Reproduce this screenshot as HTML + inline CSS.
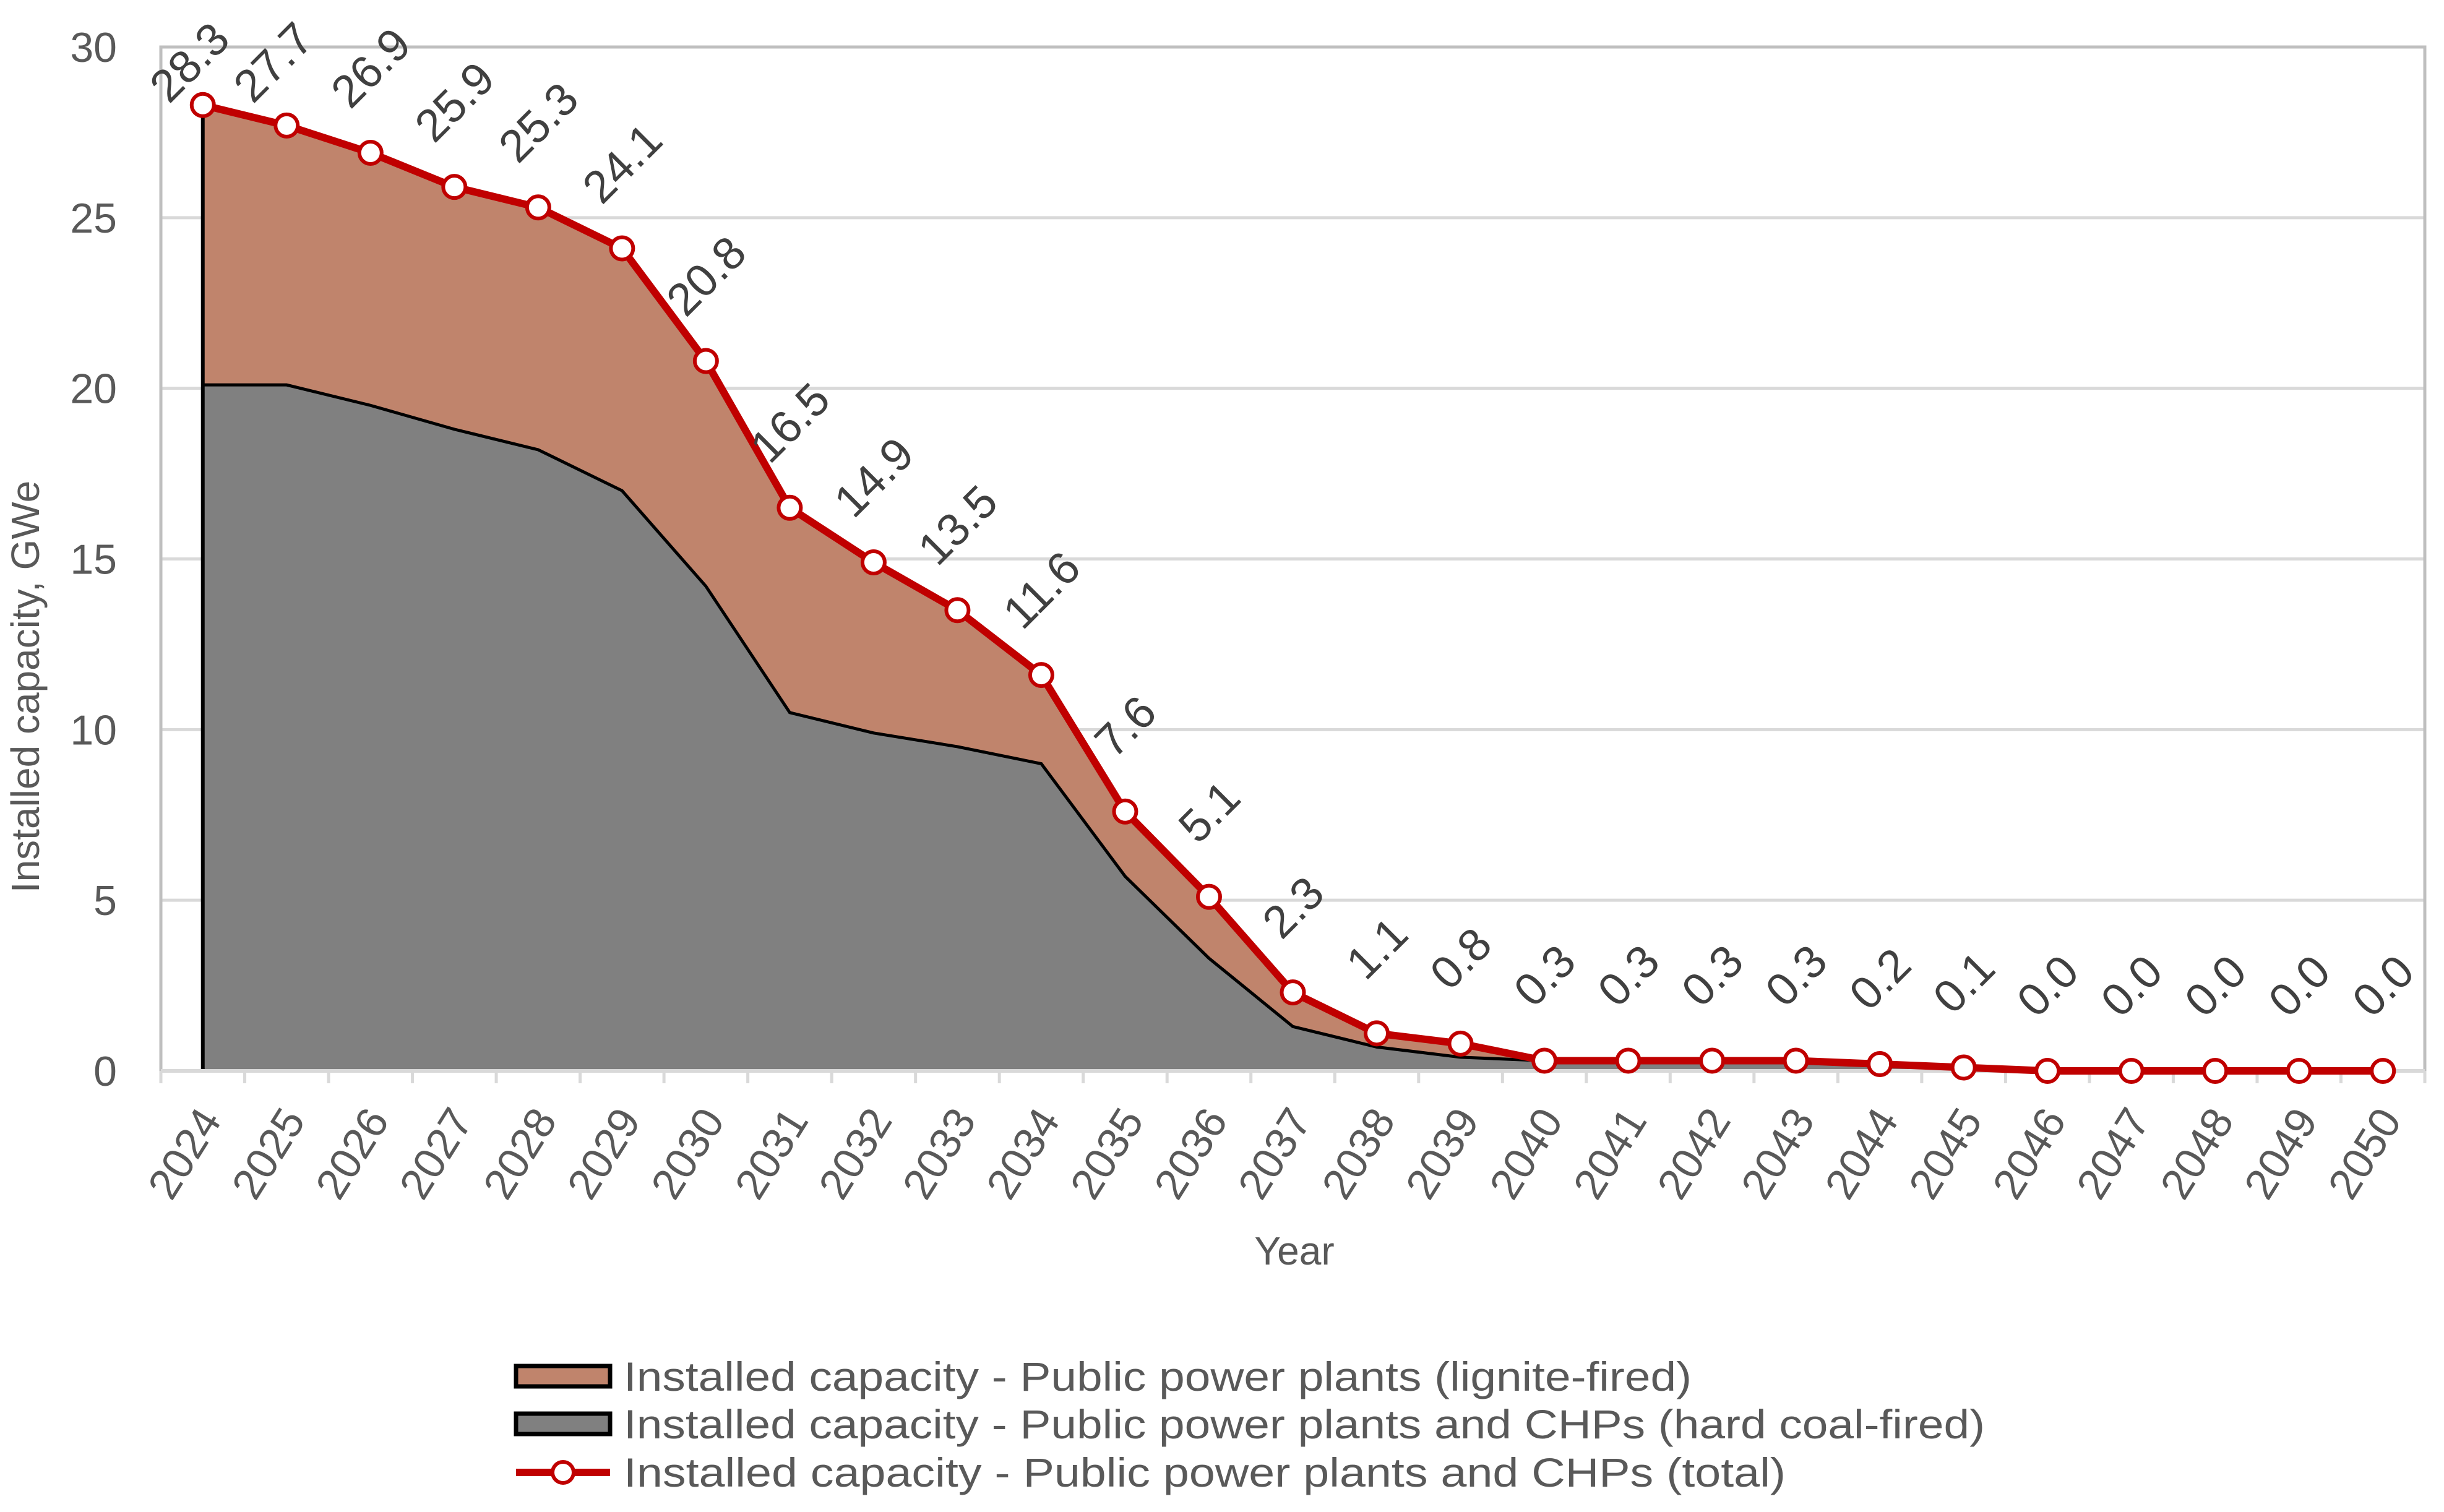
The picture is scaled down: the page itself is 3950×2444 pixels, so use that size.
<!DOCTYPE html>
<html><head><meta charset="utf-8"><style>
html,body{margin:0;padding:0;background:#fff;}
svg{display:block;font-family:"Liberation Sans",Arial,sans-serif;}
</style></head><body>
<svg id="chart" width="3950" height="2444" viewBox="0 0 3950 2444" xmlns="http://www.w3.org/2000/svg">
<g id="grid"></g>
<g id="areas"></g>
<g id="axes"></g>
<g id="line"></g>
<g id="labels"></g>
<text x="63" y="1110" transform="rotate(-90 63 1110)" text-anchor="middle" font-size="64" fill="#595959">Installed capacity, GWe</text>
<text x="2092" y="2044" text-anchor="middle" font-size="64" fill="#595959">Year</text>
<g>
 <g>
  <rect x="834" y="2208" width="152" height="33" fill="#C0846C" stroke="#000" stroke-width="7"/>
  <text x="1008" y="2248" font-size="66" fill="#595959" textLength="1726" lengthAdjust="spacingAndGlyphs">Installed capacity - Public power plants (lignite-fired)</text>
 </g>
 <g>
  <rect x="834" y="2285" width="152" height="33" fill="#808080" stroke="#000" stroke-width="7"/>
  <text x="1008" y="2325" font-size="66" fill="#595959" textLength="2200" lengthAdjust="spacingAndGlyphs">Installed capacity - Public power plants and CHPs (hard coal-fired)</text>
 </g>
 <g>
  <line x1="834" y1="2380" x2="986" y2="2380" stroke="#C00000" stroke-width="12"/>
  <circle cx="910" cy="2380" r="17" fill="#fff" stroke="#C00000" stroke-width="6"/>
  <text x="1008" y="2403" font-size="66" fill="#595959" textLength="1878" lengthAdjust="spacingAndGlyphs">Installed capacity - Public power plants and CHPs (total)</text>
 </g>
</g>
</svg>
<script>
const years = [2024,2025,2026,2027,2028,2029,2030,2031,2032,2033,2034,2035,2036,2037,2038,2039,2040,2041,2042,2043,2044,2045,2046,2047,2048,2049,2050];
const totalValues = [28.3,27.7,26.9,25.9,25.3,24.1,20.8,16.5,14.9,13.5,11.6,7.6,5.1,2.3,1.1,0.8,0.3,0.3,0.3,0.3,0.2,0.1,0.0,0.0,0.0,0.0,0.0];
const hardCoalValues = [20.1,20.1,19.5,18.8,18.2,17.0,14.2,10.5,9.9,9.5,9.0,5.7,3.3,1.3,0.7,0.4,0.3,0.3,0.3,0.25,0.15,0.05,0,0,0,0,0];
const yTicks = [0,5,10,15,20,25,30];

(function(){
const NS="http://www.w3.org/2000/svg";
const L=260,R=3919,T=76,B=1731,YMAX=30;
const band=(R-L)/years.length;
const xs=i=>L+band*(i+0.5);
const ys=v=>B-(v/YMAX)*(B-T);
function mk(tag,attrs,parent){const e=document.createElementNS(NS,tag);for(const k in attrs)e.setAttribute(k,attrs[k]);parent.appendChild(e);return e;}
const gridG=document.getElementById('grid'),axesG=document.getElementById('axes'),areasG=document.getElementById('areas'),lineG=document.getElementById('line'),labelsG=document.getElementById('labels');

yTicks.forEach(t=>{
  if(t>0){const g=mk('line',{x1:L,x2:R,y1:ys(t),y2:ys(t),stroke:'#D9D9D9','stroke-width':5},gridG);
  
  }
  const tx=mk('text',{x:189,y:ys(t)+24,'text-anchor':'end','font-size':68,fill:'#595959'},axesG);
  tx.textContent=t;
  
  
});
const br=mk('path',{d:`M${L},${B} L${L},${T} L${R},${T} L${R},${B}`,fill:'none',stroke:'#BFBFBF','stroke-width':5},gridG);



let totPath='';
years.forEach((y,i)=>{totPath+=(i?' L':'M')+xs(i)+','+ys(totalValues[i]);});
let hc='';
years.forEach((y,i)=>{hc+=(i?' L':'M')+xs(i)+','+ys(hardCoalValues[i]);});
let hcRev='';
for(let i=years.length-1;i>=0;i--)hcRev+=' L'+xs(i)+','+ys(hardCoalValues[i]);
const a1=mk('path',{d:totPath+hcRev+' Z',fill:'#C0846C',stroke:'none'},areasG);


const a2=mk('path',{d:hc+` L${xs(years.length-1)},${B} L${xs(0)},${B} Z`,fill:'#808080',stroke:'none'},areasG);


const e1=mk('path',{d:hc,fill:'none',stroke:'#000','stroke-width':5},areasG);


const e2=mk('line',{x1:xs(0),x2:xs(0),y1:ys(totalValues[0]),y2:B,stroke:'#000','stroke-width':6},areasG);



const xa=mk('line',{x1:L,x2:R,y1:B,y2:B,stroke:'#D9D9D9','stroke-width':6},axesG);


for(let i=0;i<=years.length;i++){
  const tk=mk('line',{x1:L+band*i,x2:L+band*i,y1:B,y2:B+20,stroke:'#D9D9D9','stroke-width':5},axesG);
  
  
}
years.forEach((y,i)=>{
  const x=xs(i)+32,yy=B+80;
  const t=mk('text',{x:x,y:yy,'text-anchor':'end','font-size':70,fill:'#595959',transform:`rotate(-58 ${x} ${yy})`},axesG);
  t.textContent=y;
  
  
});

const pl=mk('path',{d:totPath,fill:'none',stroke:'#C00000','stroke-width':12,'stroke-linejoin':'round'},lineG);


years.forEach((y,i)=>{
  const c=mk('circle',{cx:xs(i),cy:ys(totalValues[i]),r:18,fill:'#fff',stroke:'#C00000','stroke-width':6},lineG);
  
  
  const raw=ys(totalValues[i])-138;
  const cy=Math.max(raw,100), cx=xs(i)-(raw<100?22:0);
  const t=mk('text',{x:cx,y:cy+26,'text-anchor':'middle','font-size':74,fill:'#404040',transform:`rotate(-45 ${cx} ${cy})`},labelsG);
  t.textContent=totalValues[i].toFixed(1);
  
  
});
})();
</script>
</body></html>
